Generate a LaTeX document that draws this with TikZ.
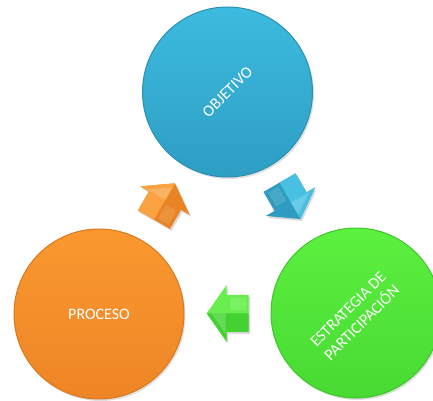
\documentclass[tikz,border=0pt]{standalone}
\usepackage{fontspec}
\setmainfont{Carlito}
\usetikzlibrary{shadows}
\definecolor{bluetop}{HTML}{3DBADF}
\definecolor{bluebot}{HTML}{2E9EC3}
\definecolor{bluerim}{HTML}{2A90B2}
\definecolor{orangetop}{HTML}{FA982F}
\definecolor{orangebot}{HTML}{EE8526}
\definecolor{orangerim}{HTML}{DA7820}
\definecolor{greentop}{HTML}{5CF040}
\definecolor{greenbot}{HTML}{48DA32}
\definecolor{greenrim}{HTML}{3EC62B}
\definecolor{bluelight}{HTML}{48C0E2}
\definecolor{bluedark}{HTML}{2E9CC0}
\definecolor{orangelight}{HTML}{FAA242}
\definecolor{orangedark}{HTML}{E88424}
\definecolor{greenlight}{HTML}{68EE4E}
\definecolor{greendark}{HTML}{44D232}
\newcommand\mkarrow[4]{%
  \begin{scope}[shift={#1}, rotate=#2]
    \fill[#4, arrowshadow] (0,0) -- (-20,28.5) -- (-20,18.5) -- (-42,18.5)
      -- (-42,-18.5) -- (-20,-18.5) -- (-20,-28.5) -- cycle;
    \fill[#3] (0,0) -- (-20,28.5) -- (-20,18.5) -- (-42,18.5) -- (-42,0) -- cycle;
    \fill[white, opacity=0.18] (-5,0) -- (-19,21) -- (-19,0) -- cycle;
    \fill[white, opacity=0.12] (-23,-15) -- (-39,-15) -- (-39,-3) -- (-23,-3) -- cycle;
  \end{scope}}
\begin{document}
\begin{tikzpicture}[x=1pt,y=1pt,
  disc/.style={circle, minimum size=170pt, inner sep=0pt, line width=1pt,
    drop shadow={shadow xshift=1.5pt, shadow yshift=-2pt, opacity=0.25}},
  label45/.style={rotate=45, text=white, align=center,
    font=\fontsize{16}{19.5}\selectfont},
  labelflat/.style={text=white, font=\fontsize{16}{19.5}\selectfont},
  arrowshadow/.style={drop shadow={shadow xshift=1.5pt, shadow yshift=-2pt, opacity=0.3}}]
\useasboundingbox (0,0) rectangle (433,400);
\clip (0,0) rectangle (433,400);
\node[disc, top color=bluetop, bottom color=bluebot, draw=bluerim] (obj) at (227.5,308) {};
\node[disc, top color=orangetop, bottom color=orangebot, draw=orangerim] (pro) at (99,86) {};
\node[disc, top color=greentop, bottom color=greenbot, draw=greenrim] (est) at (356,87) {};
\node[label45] (tobj) at (obj.center) {OBJETIVO};
\node[labelflat] (tpro) at (pro.center) {PROCESO};
\node[label45] (test) at ([shift={(-1,-3)}]est.center) {ESTRATEGIA DE\\PARTICIPACIÓN};
\mkarrow{(175,216.7)}{60}{orangelight}{orangedark}
\mkarrow{(300.5,181)}{-60}{bluelight}{bluedark}
\mkarrow{(206.7,86.7)}{180}{greendark}{greenlight}
\end{tikzpicture}
\end{document}
